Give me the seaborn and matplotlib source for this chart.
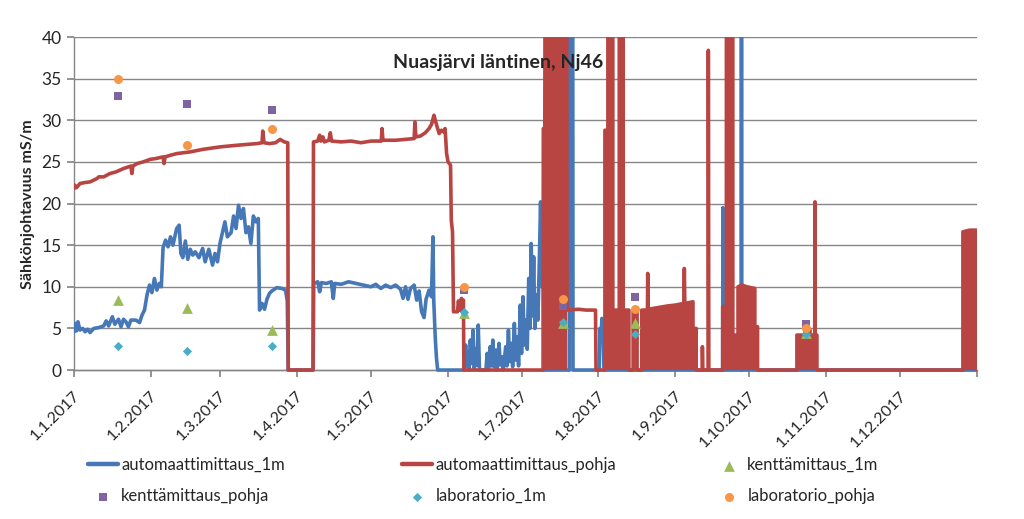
import pandas as pd
import numpy as np
import matplotlib
matplotlib.use("Agg")
import matplotlib.pyplot as plt
import matplotlib.transforms as mtransforms
import seaborn as sns

# day of year (0 = 1.1.2017) and conductivity mS/m
blue_pts = [
    (0.0, 4.6), (0.5, 5.6), (1.0, 4.7), (1.6, 5.8), (2.4, 4.8), (3.5, 5.0), (4.5, 4.6), (5.5, 4.9),
    (6.5, 4.5), (8.0, 5.0), (10.0, 5.1), (12.0, 5.3), (13.0, 5.9), (14.0, 5.3), (15.5, 6.4), (16.5, 5.5),
    (18.0, 6.1), (19.0, 5.2), (20.0, 6.1), (21.0, 5.8), (22.0, 5.2), (23.0, 6.0), (25.0, 6.0), (26.5, 5.7),
    (27.5, 6.6), (28.5, 7.2), (29.5, 9.0), (30.5, 10.2), (31.5, 9.3), (32.5, 11.0), (33.5, 9.6), (34.5, 10.4),
    (35.3, 10.0), (36.0, 14.7), (37.0, 15.6), (38.0, 14.8), (39.0, 16.0), (40.0, 15.0), (41.5, 17.0), (42.5, 17.4),
    (43.2, 14.0), (44.0, 13.5), (45.0, 15.5), (46.0, 13.3), (47.0, 14.5), (48.0, 13.8), (49.0, 14.2), (50.5, 13.5),
    (52.0, 14.6), (53.0, 13.0), (54.5, 14.5), (56.0, 12.6), (57.0, 14.0), (58.0, 13.0), (59.0, 15.2), (60.0, 16.5),
    (61.0, 17.8), (62.0, 16.0), (63.5, 16.5), (64.5, 18.5), (65.5, 17.0), (66.5, 19.8), (67.5, 18.2), (68.5, 19.4),
    (69.5, 16.5), (70.5, 17.2), (71.5, 15.2), (72.5, 18.5), (73.5, 17.8), (74.5, 18.2), (75.0, 7.2), (76.0, 8.0),
    (77.0, 7.3), (78.0, 8.5), (79.0, 9.2), (80.0, 9.5), (82.0, 9.9), (84.0, 9.8), (85.5, 9.6), (86.2, 8.3),
    (86.6, 0.0), (96.7, 0.0), (96.9, 10.4), (98.5, 10.6), (99.3, 9.4), (100.0, 10.5), (102.0, 10.4), (104.0, 10.6),
    (104.8, 8.6), (105.4, 10.4), (108.0, 10.3), (111.0, 10.6), (114.0, 10.4), (117.0, 10.2), (120.0, 10.0),
    (122.0, 10.3), (124.0, 9.8), (126.0, 10.2), (128.0, 9.9), (130.0, 10.2), (132.0, 9.7), (133.0, 8.6),
    (134.0, 10.0), (135.0, 8.5), (136.0, 9.8), (137.5, 10.2), (138.5, 8.4), (139.5, 9.5), (140.5, 7.0),
    (141.5, 6.3), (142.3, 8.5), (143.5, 9.6), (144.5, 8.8), (145.1, 16.0), (145.4, 8.5), (146.0, 4.0),
    (146.5, 1.5), (147.0, 0.0), (157.8, 0.0), (158.3, 3.0), (158.7, 0.5), (159.2, 2.2), (159.7, 0.0),
    (160.2, 3.6), (160.7, 0.8), (161.3, 4.8), (161.8, 0.2), (162.4, 2.5), (162.9, 0.6), (163.4, 5.4),
    (163.9, 0.0), (166.5, 0.0), (167.0, 2.0), (167.5, 0.0), (168.2, 2.8), (168.7, 0.5), (169.3, 3.6),
    (169.8, 0.4), (170.5, 2.4), (171.0, 0.0), (171.8, 3.2), (172.3, 0.6), (173.0, 1.6), (173.5, 0.0),
    (174.5, 2.8), (175.0, 0.5), (175.6, 4.8), (176.1, 1.0), (176.8, 3.2), (177.3, 0.4), (178.0, 5.6),
    (178.5, 1.2), (179.2, 4.0), (179.7, 0.5), (180.4, 7.8), (180.9, 2.0), (181.5, 8.8), (182.0, 3.0),
    (182.6, 6.0), (183.2, 2.5), (183.8, 11.0), (184.3, 5.0), (184.8, 15.2), (185.3, 6.5), (185.8, 13.6),
    (186.3, 5.0), (186.9, 9.0), (187.5, 6.0), (188.0, 12.0), (188.6, 20.2), (189.1, 10.0), (189.6, 16.5),
    (190.0, 0.0), (200.2, 0.0), (200.3, 45.0), (201.6, 45.0), (201.7, 0.0), (212.3, 0.0), (212.6, 5.0),
    (213.0, 4.0), (213.4, 6.2), (213.8, 5.5), (214.2, 0.0), (262.2, 0.0), (262.3, 19.5), (262.5, 0.0),
    (269.7, 0.0), (269.8, 45.0), (269.9, 0.0), (365.0, 0.0),
]

red_pts = [
    (0.0, 21.8), (0.3, 22.2), (1.0, 21.9), (2.4, 22.4), (4.0, 22.5), (6.5, 22.6), (9.3, 23.0), (10.0, 23.2),
    (12.0, 23.2), (14.5, 23.6), (17.0, 23.8), (20.0, 24.2), (23.0, 24.5), (23.4, 23.6), (23.8, 24.5),
    (25.5, 24.8), (28.0, 25.0), (30.7, 25.3), (33.0, 25.4), (36.0, 25.6), (36.4, 24.8), (36.8, 25.6),
    (39.0, 25.8), (41.6, 26.0), (47.0, 26.2), (52.0, 26.5), (59.0, 26.8), (66.0, 27.0), (74.0, 27.2),
    (76.0, 27.3), (76.3, 28.7), (76.8, 27.3), (79.0, 27.2), (81.5, 27.3), (83.3, 27.7), (85.0, 27.4),
    (86.4, 27.3), (86.6, 0.0), (96.6, 0.0), (96.8, 27.4), (98.5, 27.5), (99.3, 28.2), (99.8, 27.5),
    (100.6, 28.0), (101.2, 27.4), (103.0, 27.6), (103.6, 28.5), (104.1, 27.5), (108.0, 27.4), (112.0, 27.5),
    (116.0, 27.3), (120.0, 27.5), (124.2, 27.5), (124.5, 29.0), (124.9, 27.6), (130.0, 27.6), (134.0, 27.7),
    (137.5, 27.8), (137.8, 29.8), (138.2, 28.0), (140.0, 28.1), (142.0, 28.5), (143.5, 29.0), (144.5, 29.5),
    (145.5, 30.6), (146.2, 29.8), (147.0, 29.0), (147.6, 28.4), (148.5, 28.8), (149.5, 28.6), (150.0, 29.0),
    (150.6, 26.0), (151.2, 25.0), (152.2, 24.6), (152.5, 18.0), (153.0, 16.6), (153.4, 7.0), (155.0, 7.0),
    (155.4, 8.3), (155.8, 7.2), (156.6, 8.6), (157.0, 7.0), (157.4, 8.4), (157.6, 0.0), (189.6, 0.0),
    (189.7, 29.0), (190.3, 29.0), (190.4, 45.0), (199.2, 45.0), (199.3, 7.2), (204.0, 7.3), (207.0, 7.2),
    (210.8, 7.2), (211.0, 0.0), (214.6, 0.0), (214.6, 28.8), (215.8, 28.8), (215.8, 45.0), (217.8, 45.0),
    (217.8, 7.2), (220.4, 7.2), (220.4, 45.0), (222.0, 45.0), (222.0, 7.2), (224.3, 7.2), (224.3, 0.0),
    (226.0, 0.0), (226.0, 7.2), (227.6, 7.2), (227.6, 0.0), (229.5, 0.0), (229.5, 7.2), (231.8, 7.2),
    (231.9, 11.6), (232.1, 7.3), (236.0, 7.5), (240.0, 7.7), (243.0, 7.8), (246.5, 8.0), (246.7, 12.2),
    (246.9, 8.0), (250.2, 8.2), (250.2, 5.0), (251.5, 5.0), (251.5, 0.0), (253.9, 0.0), (254.0, 2.8),
    (254.2, 0.0), (256.3, 0.0), (256.4, 38.4), (256.6, 0.0), (262.2, 0.0), (262.2, 7.6), (263.7, 7.6),
    (263.7, 45.0), (264.6, 45.0), (264.6, 7.6), (265.6, 7.6), (265.6, 45.0), (266.3, 45.0), (266.3, 4.2),
    (268.4, 4.2), (268.4, 10.0), (270.0, 10.2), (272.0, 10.0), (275.2, 9.8), (275.2, 5.2), (276.3, 5.2),
    (276.3, 0.0), (292.2, 0.0), (292.2, 4.2), (295.5, 4.2), (295.5, 4.8), (297.5, 4.8), (297.5, 4.2),
    (299.4, 4.2), (299.5, 20.2), (299.6, 4.2), (300.3, 4.2), (300.3, 0.0), (359.3, 0.0), (359.3, 16.6),
    (362.0, 16.8), (364.8, 16.8), (364.9, 0.0),
]

# stretches where the logger oscillates so densely that the line looks solid
red_solid_spans = [(189.6, 199.3), (214.6, 224.3), (226.0, 227.6), (229.5, 251.5),
                   (262.2, 276.3), (292.2, 300.3), (359.3, 364.9)]

sample_days = [17.8, 45.7, 80.0, 157.6, 197.7, 226.8, 296.0]
kentta_1m = [8.4, 7.4, 4.8, 6.8, 5.7, 5.6, 4.5]
kentta_pohja = [32.9, 32.0, 31.2, 9.6, 7.7, 8.8, 5.5]
lab_1m = [2.9, 2.3, 2.9, 7.0, 5.8, 4.3, 4.3]
lab_pohja = [35.0, 27.0, 29.0, 10.0, 8.5, 7.3, 5.1]

month_labels = ["1.1.2017", "1.2.2017", "1.3.2017", "1.4.2017", "1.5.2017", "1.6.2017",
                "1.7.2017", "1.8.2017", "1.9.2017", "1.10.2017", "1.11.2017", "1.12.2017"]

BLUE = "#4678B8"
RED = "#B94542"
GRID = "#868686"

sns.set_theme(style="white")
plt.rcParams['font.family'] = ['Lato', 'DejaVu Sans']

start = pd.Timestamp("2017-01-01")

def to_df(pts):
    df = pd.DataFrame(pts, columns=["day", "val"])
    df["date"] = start + pd.to_timedelta(df["day"], unit="D")
    return df

blue = to_df(blue_pts)
red = to_df(red_pts)
samples = pd.DataFrame({"date": start + pd.to_timedelta(sample_days, unit="D"),
                        "k1": kentta_1m, "kp": kentta_pohja, "l1": lab_1m, "lp": lab_pohja})

fig = plt.figure(figsize=(10.24, 5.19), dpi=100)
ax = fig.add_axes([74 / 1024, (519 - 371.7) / 519, 903 / 1024, (371.7 - 37) / 519])

sns.lineplot(data=blue, x="date", y="val", estimator=None, sort=False, color=BLUE,
             lw=2.6, ax=ax, label="automaattimittaus_1m", zorder=3)
sns.lineplot(data=red, x="date", y="val", estimator=None, sort=False, color=RED,
             lw=2.6, ax=ax, label="automaattimittaus_pohja", zorder=4)
solid = np.zeros(len(red), dtype=bool)
for a, b in red_solid_spans:
    solid |= (red["day"] >= a) & (red["day"] <= b)
ax.fill_between(red["date"], 0, red["val"], where=solid, color=RED, lw=0, zorder=4)

sns.scatterplot(data=samples, x="date", y="k1", marker="^", s=60, color="#9BBB59",
                linewidth=0, ax=ax, label="kenttämittaus_1m", zorder=5)
sns.scatterplot(data=samples, x="date", y="kp", marker="s", s=36, color="#8064A2",
                linewidth=0, ax=ax, label="kenttämittaus_pohja", zorder=6)
sns.scatterplot(data=samples, x="date", y="l1", marker="D", s=22, color="#4BACC6",
                linewidth=0, ax=ax, label="laboratorio_1m", zorder=7)
sns.scatterplot(data=samples, x="date", y="lp", marker="o", s=42, color="#F79646",
                linewidth=0, ax=ax, label="laboratorio_pohja", zorder=8)

ax.set_ylim(-0.2, 40)
ax.set_xlim(start, pd.Timestamp("2018-01-01"))
ax.set_yticks(range(0, 41, 5))
ax.yaxis.grid(True, color=GRID, lw=1)
ax.set_axisbelow(True)
for side in ["top", "right"]:
    ax.spines[side].set_visible(False)
ax.spines["bottom"].set_position(("data", 0))
ax.spines["left"].set_bounds(0, 40)
for side in ["left", "bottom"]:
    ax.spines[side].set_color(GRID)
    ax.spines[side].set_linewidth(1)

ticks = list(pd.to_datetime(month_labels, format="%d.%m.%Y")) + [pd.Timestamp("2018-01-01")]
ax.set_xticks(ticks)
ax.set_xticklabels(month_labels + [""], rotation=45, ha="right", va="center",
                   rotation_mode="anchor", fontsize=11.5)
ax.tick_params(axis="both", which="major", direction="out", length=5, color=GRID,
               bottom=True, left=True)
ax.tick_params(axis="x", pad=12)
ax.tick_params(axis="y", labelsize=12.5, pad=4)
shift = mtransforms.ScaledTranslation(4 / 100, 0, fig.dpi_scale_trans)
for lab in ax.get_xticklabels():
    lab.set_transform(lab.get_transform() + shift)
ax.set_xlabel("")
ax.set_ylabel("")

fig.text(28 / 1024, 1 - 204 / 519, "Sähkönjohtavuus mS/m", rotation=90, ha="center",
         va="center", fontsize=11.5, fontweight="bold")
ax.text(0.4696, 0.925, "Nuasjärvi läntinen, Nj46", transform=ax.transAxes, ha="center",
        va="center", fontsize=14, fontweight="bold", zorder=10)

handles, labels = ax.get_legend_handles_labels()
ax.get_legend().remove()
lookup = dict(zip(labels, handles))
# one legend per column, so each column sits where the reference puts it
columns = [(88, ["automaattimittaus_1m", "kenttämittaus_pohja"]),
           (402, ["automaattimittaus_pohja", "laboratorio_1m"]),
           (714, ["kenttämittaus_1m", "laboratorio_pohja"])]
for x0, names in columns:
    leg = fig.legend([lookup[n] for n in names], names, loc="upper left",
                     bbox_to_anchor=(x0 / 1024, 1 - 457 / 519), frameon=False, fontsize=12,
                     handlelength=1.8, handletextpad=0.2, labelspacing=0.9,
                     borderpad=0, borderaxespad=0)
    for h in leg.legend_handles:
        if h.__class__.__name__ == "Line2D":
            h.set_linewidth(3.2)

fig.savefig("out.png", dpi=100)
